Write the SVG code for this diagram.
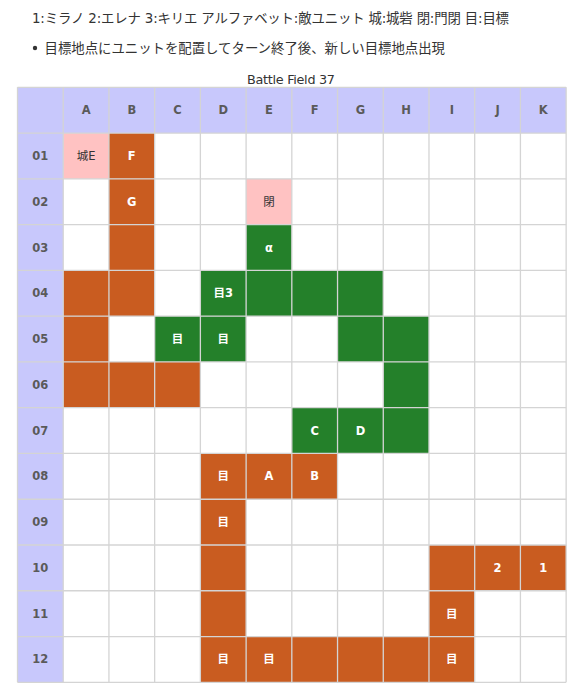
<svg xmlns="http://www.w3.org/2000/svg" width="580" height="694" viewBox="0 0 580 694">
<style>
text{font-family:"DejaVu Sans","Noto Sans CJK JP",sans-serif}
.note{font-size:13.4px;fill:#333}
.title{font-size:12.8px;fill:#333}
.hd{fill:#c8c8fc}
.hdt{font-size:11.5px;font-weight:bold;fill:#5a5a5a;text-anchor:middle;dominant-baseline:central}
.o{fill:#c95c20}
.g{fill:#24802a}
.p{fill:#ffc2c2}
.ct{font-size:11.5px;font-weight:bold;fill:#fff;text-anchor:middle;dominant-baseline:central}
.ctd{font-size:11.5px;fill:#333;text-anchor:middle;dominant-baseline:central}
.grid line{stroke:#d4d4d4;stroke-width:1.3}
</style>
<rect width="580" height="694" fill="#fff"/>
<g id="legend">
<text class="note" x="32" y="23" textLength="477" lengthAdjust="spacing">1:ミラノ 2:エレナ 3:キリエ アルファベット:敵ユニット 城:城砦 閉:門閉 目:目標</text>
<circle cx="35" cy="48" r="2.2" fill="#333"/>
<text class="note" x="44.5" y="53" textLength="400.5" lengthAdjust="spacing">目標地点にユニットを配置してターン終了後、新しい目標地点出現</text>
<text class="title" x="247" y="84" textLength="88" lengthAdjust="spacing">Battle Field 37</text>
</g>
<g id="headers">
<rect class="hd" x="17.5" y="87.3" width="548.64" height="45.77"/>
<rect class="hd" x="17.5" y="87.3" width="45.72" height="595"/>
<text class="hdt" x="86.08" y="110.19">A</text>
<text class="hdt" x="131.8" y="110.19">B</text>
<text class="hdt" x="177.52" y="110.19">C</text>
<text class="hdt" x="223.24" y="110.19">D</text>
<text class="hdt" x="268.96" y="110.19">E</text>
<text class="hdt" x="314.68" y="110.19">F</text>
<text class="hdt" x="360.4" y="110.19">G</text>
<text class="hdt" x="406.12" y="110.19">H</text>
<text class="hdt" x="451.84" y="110.19">I</text>
<text class="hdt" x="497.56" y="110.19">J</text>
<text class="hdt" x="543.28" y="110.19">K</text>
<text class="hdt" x="40.36" y="155.96">01</text>
<text class="hdt" x="40.36" y="201.73">02</text>
<text class="hdt" x="40.36" y="247.5">03</text>
<text class="hdt" x="40.36" y="293.27">04</text>
<text class="hdt" x="40.36" y="339.04">05</text>
<text class="hdt" x="40.36" y="384.81">06</text>
<text class="hdt" x="40.36" y="430.58">07</text>
<text class="hdt" x="40.36" y="476.35">08</text>
<text class="hdt" x="40.36" y="522.12">09</text>
<text class="hdt" x="40.36" y="567.89">10</text>
<text class="hdt" x="40.36" y="613.66">11</text>
<text class="hdt" x="40.36" y="659.43">12</text>
</g>
<g id="cells">
<g id="A01"><rect class="p" x="63.22" y="133.07" width="45.72" height="45.77"/><text class="ctd" x="86.08" y="155.96">城E</text></g>
<g id="B01"><rect class="o" x="108.94" y="133.07" width="45.72" height="45.77"/><text class="ct" x="131.8" y="155.96">F</text></g>
<g id="B02"><rect class="o" x="108.94" y="178.84" width="45.72" height="45.77"/><text class="ct" x="131.8" y="201.73">G</text></g>
<g id="E02"><rect class="p" x="246.1" y="178.84" width="45.72" height="45.77"/><text class="ctd" x="268.96" y="201.73">閉</text></g>
<g id="B03"><rect class="o" x="108.94" y="224.61" width="45.72" height="45.77"/></g>
<g id="E03"><rect class="g" x="246.1" y="224.61" width="45.72" height="45.77"/><text class="ct" x="268.96" y="247.5">α</text></g>
<g id="A04"><rect class="o" x="63.22" y="270.38" width="45.72" height="45.77"/></g>
<g id="B04"><rect class="o" x="108.94" y="270.38" width="45.72" height="45.77"/></g>
<g id="D04"><rect class="g" x="200.38" y="270.38" width="45.72" height="45.77"/><text class="ct" x="223.24" y="293.27">目3</text></g>
<g id="E04"><rect class="g" x="246.1" y="270.38" width="45.72" height="45.77"/></g>
<g id="F04"><rect class="g" x="291.82" y="270.38" width="45.72" height="45.77"/></g>
<g id="G04"><rect class="g" x="337.54" y="270.38" width="45.72" height="45.77"/></g>
<g id="A05"><rect class="o" x="63.22" y="316.15" width="45.72" height="45.77"/></g>
<g id="C05"><rect class="g" x="154.66" y="316.15" width="45.72" height="45.77"/><text class="ct" x="177.52" y="339.04">目</text></g>
<g id="D05"><rect class="g" x="200.38" y="316.15" width="45.72" height="45.77"/><text class="ct" x="223.24" y="339.04">目</text></g>
<g id="G05"><rect class="g" x="337.54" y="316.15" width="45.72" height="45.77"/></g>
<g id="H05"><rect class="g" x="383.26" y="316.15" width="45.72" height="45.77"/></g>
<g id="A06"><rect class="o" x="63.22" y="361.92" width="45.72" height="45.77"/></g>
<g id="B06"><rect class="o" x="108.94" y="361.92" width="45.72" height="45.77"/></g>
<g id="C06"><rect class="o" x="154.66" y="361.92" width="45.72" height="45.77"/></g>
<g id="H06"><rect class="g" x="383.26" y="361.92" width="45.72" height="45.77"/></g>
<g id="F07"><rect class="g" x="291.82" y="407.69" width="45.72" height="45.77"/><text class="ct" x="314.68" y="430.58">C</text></g>
<g id="G07"><rect class="g" x="337.54" y="407.69" width="45.72" height="45.77"/><text class="ct" x="360.4" y="430.58">D</text></g>
<g id="H07"><rect class="g" x="383.26" y="407.69" width="45.72" height="45.77"/></g>
<g id="D08"><rect class="o" x="200.38" y="453.46" width="45.72" height="45.77"/><text class="ct" x="223.24" y="476.35">目</text></g>
<g id="E08"><rect class="o" x="246.1" y="453.46" width="45.72" height="45.77"/><text class="ct" x="268.96" y="476.35">A</text></g>
<g id="F08"><rect class="o" x="291.82" y="453.46" width="45.72" height="45.77"/><text class="ct" x="314.68" y="476.35">B</text></g>
<g id="D09"><rect class="o" x="200.38" y="499.23" width="45.72" height="45.77"/><text class="ct" x="223.24" y="522.12">目</text></g>
<g id="D10"><rect class="o" x="200.38" y="545" width="45.72" height="45.77"/></g>
<g id="I10"><rect class="o" x="428.98" y="545" width="45.72" height="45.77"/></g>
<g id="J10"><rect class="o" x="474.7" y="545" width="45.72" height="45.77"/><text class="ct" x="497.56" y="567.89">2</text></g>
<g id="K10"><rect class="o" x="520.42" y="545" width="45.72" height="45.77"/><text class="ct" x="543.28" y="567.89">1</text></g>
<g id="D11"><rect class="o" x="200.38" y="590.77" width="45.72" height="45.77"/></g>
<g id="I11"><rect class="o" x="428.98" y="590.77" width="45.72" height="45.77"/><text class="ct" x="451.84" y="613.66">目</text></g>
<g id="D12"><rect class="o" x="200.38" y="636.54" width="45.72" height="45.77"/><text class="ct" x="223.24" y="659.43">目</text></g>
<g id="E12"><rect class="o" x="246.1" y="636.54" width="45.72" height="45.77"/><text class="ct" x="268.96" y="659.43">目</text></g>
<g id="F12"><rect class="o" x="291.82" y="636.54" width="45.72" height="45.77"/></g>
<g id="G12"><rect class="o" x="337.54" y="636.54" width="45.72" height="45.77"/></g>
<g id="H12"><rect class="o" x="383.26" y="636.54" width="45.72" height="45.77"/></g>
<g id="I12"><rect class="o" x="428.98" y="636.54" width="45.72" height="45.77"/><text class="ct" x="451.84" y="659.43">目</text></g>
</g>
<g class="grid" id="grid">
<line x1="17.5" y1="87.3" x2="17.5" y2="682.31"/>
<line x1="63.22" y1="87.3" x2="63.22" y2="682.31"/>
<line x1="108.94" y1="87.3" x2="108.94" y2="682.31"/>
<line x1="154.66" y1="87.3" x2="154.66" y2="682.31"/>
<line x1="200.38" y1="87.3" x2="200.38" y2="682.31"/>
<line x1="246.1" y1="87.3" x2="246.1" y2="682.31"/>
<line x1="291.82" y1="87.3" x2="291.82" y2="682.31"/>
<line x1="337.54" y1="87.3" x2="337.54" y2="682.31"/>
<line x1="383.26" y1="87.3" x2="383.26" y2="682.31"/>
<line x1="428.98" y1="87.3" x2="428.98" y2="682.31"/>
<line x1="474.7" y1="87.3" x2="474.7" y2="682.31"/>
<line x1="520.42" y1="87.3" x2="520.42" y2="682.31"/>
<line x1="566.14" y1="87.3" x2="566.14" y2="682.31"/>
<line x1="17.5" y1="87.3" x2="566.14" y2="87.3"/>
<line x1="17.5" y1="133.07" x2="566.14" y2="133.07"/>
<line x1="17.5" y1="178.84" x2="566.14" y2="178.84"/>
<line x1="17.5" y1="224.61" x2="566.14" y2="224.61"/>
<line x1="17.5" y1="270.38" x2="566.14" y2="270.38"/>
<line x1="17.5" y1="316.15" x2="566.14" y2="316.15"/>
<line x1="17.5" y1="361.92" x2="566.14" y2="361.92"/>
<line x1="17.5" y1="407.69" x2="566.14" y2="407.69"/>
<line x1="17.5" y1="453.46" x2="566.14" y2="453.46"/>
<line x1="17.5" y1="499.23" x2="566.14" y2="499.23"/>
<line x1="17.5" y1="545" x2="566.14" y2="545"/>
<line x1="17.5" y1="590.77" x2="566.14" y2="590.77"/>
<line x1="17.5" y1="636.54" x2="566.14" y2="636.54"/>
<line x1="17.5" y1="682.31" x2="566.14" y2="682.31"/>
</g>
</svg>
